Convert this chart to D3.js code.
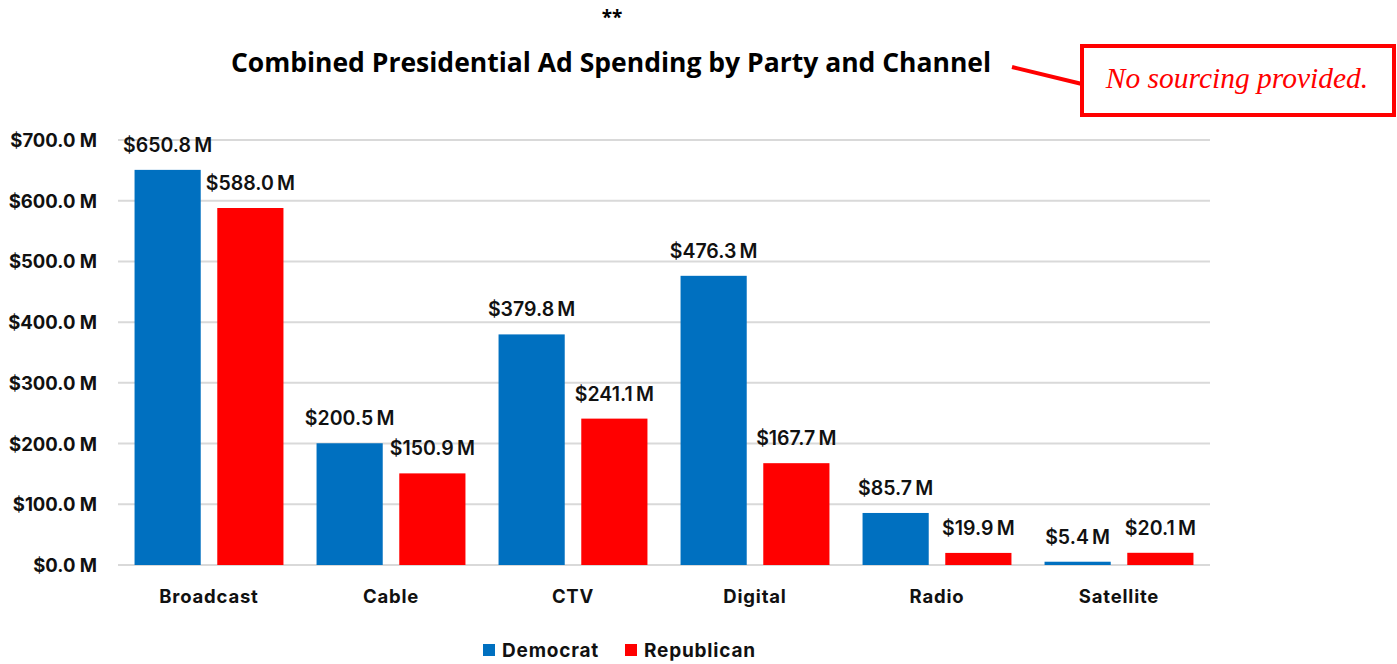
<!DOCTYPE html>
<html>
<head>
<meta charset="utf-8">
<script src="https://cdn.jsdelivr.net/npm/d3@7"></script>
<style>
  html, body { margin: 0; padding: 0; background: #fff; }
  svg { display: block; }
</style>
</head>
<body>
<svg id="chart" width="1397" height="664"></svg>
<script>
// Spending by channel, in millions of dollars
const channels = ["Broadcast", "Cable", "CTV", "Digital", "Radio", "Satellite"];
const democrat = [650.8, 200.5, 379.8, 476.3, 85.7, 5.4];
const republican = [588.0, 150.9, 241.1, 167.7, 19.9, 20.1];
const parties = ["Democrat", "Republican"];
const partyColors = ["#0070C0", "#FF0000"];
const yTicks = [0, 100, 200, 300, 400, 500, 600, 700];

const svg = d3.select("#chart");
const plot = { left: 118, right: 1210, top: 140, bottom: 565 };

const x0 = d3.scaleBand().domain(channels).range([plot.left, plot.right]).paddingInner(0).paddingOuter(0);
const x1 = d3.scaleBand().domain(parties).range([0, x0.bandwidth()]).paddingInner(0.2).paddingOuter(0.2);
const y = d3.scaleLinear().domain([0, 700]).range([plot.bottom, plot.top]);
const color = d3.scaleOrdinal().domain(parties).range(partyColors);
const fmt = v => "$" + v.toFixed(1) + "\u2009M";

const labelFont = "Inter, 'Open Sans', sans-serif";

// Gridlines
svg.append("g")
  .selectAll("line")
  .data(yTicks)
  .join("line")
  .attr("x1", plot.left).attr("x2", plot.right)
  .attr("y1", d => y(d)).attr("y2", d => y(d))
  .attr("stroke", "#d9d9d9").attr("stroke-width", 2);

// Y axis (labels only)
const yAxis = d3.axisLeft(y).tickValues(yTicks).tickSize(0).tickPadding(0).tickFormat(d => "$" + d.toFixed(1) + " M");
svg.append("g")
  .attr("transform", `translate(${plot.left - 21},0)`)
  .call(yAxis)
  .call(g => g.select(".domain").remove())
  .call(g => g.selectAll("text")
    .attr("font-family", labelFont).attr("font-weight", 700)
    .attr("font-size", 18.5).attr("fill", "#111").attr("dy", "0.35em"));

// X axis (labels only)
const xAxis = d3.axisBottom(x0).tickSize(0).tickPadding(0);
svg.append("g")
  .attr("transform", `translate(0,${plot.bottom + 38})`)
  .call(xAxis)
  .call(g => g.select(".domain").remove())
  .call(g => g.selectAll("text")
    .attr("font-family", labelFont).attr("font-weight", 700)
    .attr("font-size", 18.5).attr("fill", "#111").attr("dy", 0)
    .attr("letter-spacing", "0.8px"));

// Bars
const rows = channels.map((c, i) => ({ channel: c, values: [
  { party: "Democrat", value: democrat[i] },
  { party: "Republican", value: republican[i] }
]}));

const groups = svg.append("g")
  .selectAll("g")
  .data(rows)
  .join("g")
  .attr("transform", d => `translate(${x0(d.channel)},0)`);

groups.selectAll("rect")
  .data(d => d.values)
  .join("rect")
  .attr("x", d => x1(d.party))
  .attr("width", x1.bandwidth())
  .attr("y", d => y(d.value))
  .attr("height", d => y(0) - y(d.value))
  .attr("fill", d => color(d.party));

groups.selectAll("text")
  .data(d => d.values)
  .join("text")
  .attr("x", d => x1(d.party) + x1.bandwidth() / 2)
  .attr("y", d => y(d.value) - 18)
  .attr("text-anchor", "middle")
  .attr("font-family", labelFont).attr("font-weight", 600)
  .attr("font-size", 19.5).attr("fill", "#111")
  .text(d => fmt(d.value));

// Title
svg.append("text")
  .attr("x", 611).attr("y", 72)
  .attr("text-anchor", "middle")
  .attr("font-family", "'Open Sans', sans-serif").attr("font-weight", 700)
  .attr("font-size", 26.5).attr("fill", "#000")
  .text("Combined Presidential Ad Spending by Party and Channel");

svg.append("text")
  .attr("x", 612).attr("y", 24)
  .attr("text-anchor", "middle")
  .attr("font-family", "'Open Sans', sans-serif").attr("font-weight", 700)
  .attr("font-size", 19).attr("fill", "#000")
  .text("**");

// Callout
svg.append("line")
  .attr("x1", 1012).attr("y1", 67).attr("x2", 1082).attr("y2", 84)
  .attr("stroke", "#FF0000").attr("stroke-width", 4);
svg.append("rect")
  .attr("x", 1082).attr("y", 46).attr("width", 312).attr("height", 69)
  .attr("fill", "#fff").attr("stroke", "#FF0000").attr("stroke-width", 4);
svg.append("text")
  .attr("x", 1237).attr("y", 88)
  .attr("text-anchor", "middle")
  .attr("font-family", "'Liberation Serif', serif").attr("font-style", "italic")
  .attr("font-size", 29.5).attr("fill", "#FF0000")
  .text("No sourcing provided.");

// Legend
const legend = svg.append("g").attr("transform", "translate(0,650)");
const legendX = [483, 625];
parties.forEach((p, i) => {
  legend.append("rect")
    .attr("x", legendX[i]).attr("y", -6).attr("width", 12).attr("height", 12)
    .attr("fill", color(p));
  legend.append("text")
    .attr("x", legendX[i] + 19).attr("y", 0).attr("dy", "0.35em")
    .attr("font-family", labelFont).attr("font-weight", 700)
    .attr("font-size", 19).attr("fill", "#111")
    .attr("letter-spacing", "0.8px")
    .text(p);
});
</script>
</body>
</html>
